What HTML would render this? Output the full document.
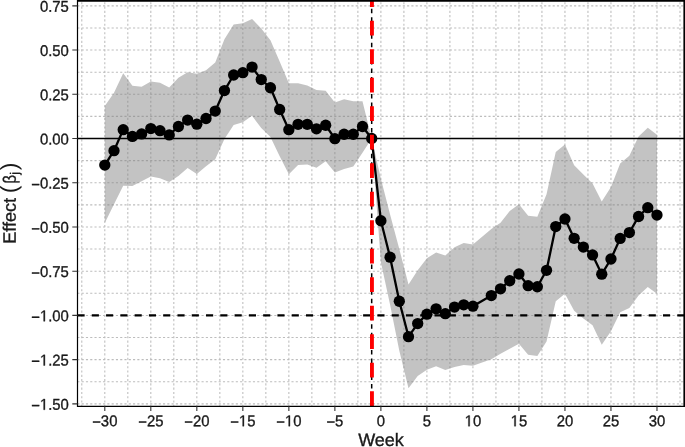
<!DOCTYPE html><html><head><meta charset="utf-8"><style>html,body{margin:0;padding:0;background:#fff;}body{width:685px;height:447px;overflow:hidden;}svg{display:block;will-change:transform;text-rendering:geometricPrecision;}text{font-family:"Liberation Sans", sans-serif;fill:#1a1a1a;stroke:#1a1a1a;stroke-width:0.35px;}</style></head><body><svg width="685" height="447" viewBox="0 0 685 447"><rect x="0" y="0" width="685" height="447" fill="#fff"/><defs><clipPath id="pc"><rect x="77.5" y="0.7" width="606.7" height="405.6"/></clipPath></defs><g clip-path="url(#pc)"><path d="M81.79 0.7V406.3M104.8 0.7V406.3M127.81 0.7V406.3M150.81 0.7V406.3M173.82 0.7V406.3M196.83 0.7V406.3M219.84 0.7V406.3M242.84 0.7V406.3M265.85 0.7V406.3M288.86 0.7V406.3M311.87 0.7V406.3M334.88 0.7V406.3M357.88 0.7V406.3M380.89 0.7V406.3M403.9 0.7V406.3M426.9 0.7V406.3M449.91 0.7V406.3M472.92 0.7V406.3M495.93 0.7V406.3M518.93 0.7V406.3M541.94 0.7V406.3M564.95 0.7V406.3M587.96 0.7V406.3M610.96 0.7V406.3M633.97 0.7V406.3M656.98 0.7V406.3M679.99 0.7V406.3" stroke="#bdbdbd" stroke-width="1.07" stroke-dasharray="2.14 2.142" stroke-dashoffset="2.75" fill="none"/><path d="M77.5 403.87H684.2M77.5 381.75H684.2M77.5 359.64H684.2M77.5 337.53H684.2M77.5 315.41H684.2M77.5 293.3H684.2M77.5 271.19H684.2M77.5 249.08H684.2M77.5 226.97H684.2M77.5 204.85H684.2M77.5 182.74H684.2M77.5 160.63H684.2M77.5 138.52H684.2M77.5 116.4H684.2M77.5 94.29H684.2M77.5 72.18H684.2M77.5 50.06H684.2M77.5 27.95H684.2M77.5 5.84H684.2" stroke="#bdbdbd" stroke-width="1.07" stroke-dasharray="2.14 2.142" stroke-dashoffset="0.15" fill="none"/><polygon points="104.8,105.97 114,92.87 123.21,73.24 132.41,85.8 141.61,86.68 150.81,81.38 160.02,82.79 169.22,87.57 178.42,77.66 187.63,72.35 196.83,73.77 206.03,70.23 215.24,62.45 224.44,39.27 233.64,24.59 242.84,23.18 252.05,18.93 261.25,28.48 270.45,40.34 279.66,61.39 288.86,83.32 298.06,83.15 307.27,85.45 316.47,90.04 325.67,90.75 334.88,102.6 344.08,99.24 353.28,101.19 362.48,101.19 371.69,138.52 380.89,178.67 390.09,214.58 399.3,249.08 408.5,284.46 417.7,270.31 426.9,258.28 436.11,252.44 445.31,255.62 454.51,247.13 463.72,243.06 472.92,244.48 491.33,229.09 500.53,222.72 509.73,211.04 518.93,204.14 528.14,215.82 537.34,216.7 546.54,194.24 555.75,151.96 564.95,144.53 574.15,165.23 583.36,174.6 592.56,183.62 601.76,201.49 610.96,186.99 620.17,163.46 629.37,155.67 638.57,136.57 647.78,127.72 656.98,134.8 656.98,293.83 647.78,287.11 638.57,295.6 629.37,307.99 620.17,312.23 610.96,331.34 601.76,344.78 592.56,325.14 583.36,318.42 574.15,310.82 564.95,293.83 555.75,301.26 546.54,341.42 537.34,355.93 528.14,354.86 518.93,343.72 509.73,348.85 500.53,353.8 491.33,359.29 472.92,365.65 463.72,365.12 454.51,367.07 445.31,370.08 436.11,366.19 426.9,369.72 417.7,375.91 408.5,388.3 399.3,350.79 390.09,304.8 380.89,262.34 371.69,138.52 362.48,152.67 353.28,166.47 344.08,169.12 334.88,172.48 325.67,161.16 316.47,167.7 307.27,164.52 298.06,165.05 288.86,174.25 279.66,156.21 270.45,137.1 261.25,128.08 252.05,115.87 242.84,122.24 233.64,125.07 224.44,139.05 215.24,159.21 206.03,166.29 196.83,174.07 187.63,168.06 178.42,176.02 169.22,182.03 160.02,178.14 150.81,176.55 141.61,181.15 132.41,186.1 123.21,185.75 114,204.14 104.8,222.9" fill="#7f7f7f" fill-opacity="0.47"/><path d="M77.5 138.52H684.2" stroke="#000" stroke-width="1.3"/><path d="M77.5 315.41H684.2" stroke="#000" stroke-width="2.2" stroke-dasharray="7.14 7.14"/><polyline points="104.8,165.04 114,150.71 123.21,129.66 132.41,136.38 141.61,133.91 150.81,128.6 160.02,130.72 169.22,134.97 178.42,126.48 187.63,120.11 196.83,124.18 206.03,118.52 215.24,111.09 224.44,90.57 233.64,75 242.84,72.7 252.05,67.04 261.25,79.6 270.45,87.74 279.66,109.5 288.86,129.66 298.06,124.36 307.27,124.36 316.47,128.78 325.67,125.24 334.88,138.68 344.08,134.26 353.28,134.26 362.48,126.48 371.69,138.52 380.89,220.77 390.09,257.21 399.3,301.26 408.5,336.64 417.7,323.54 426.9,314.17 436.11,308.86 445.31,313.64 454.51,307.09 463.72,304.79 472.92,306.21 491.33,295.59 500.53,288.87 509.73,280.73 518.93,274.01 528.14,285.69 537.34,286.75 546.54,270.3 555.75,226.6 564.95,219 574.15,238.28 583.36,247.12 592.56,254.91 601.76,274.19 610.96,258.98 620.17,238.46 629.37,232.62 638.57,216.52 647.78,207.68 656.98,215.11" fill="none" stroke="#000" stroke-width="2.3" stroke-linejoin="round"/><circle cx="104.8" cy="165.04" r="5.65" fill="#000"/><circle cx="114" cy="150.71" r="5.65" fill="#000"/><circle cx="123.21" cy="129.66" r="5.65" fill="#000"/><circle cx="132.41" cy="136.38" r="5.65" fill="#000"/><circle cx="141.61" cy="133.91" r="5.65" fill="#000"/><circle cx="150.81" cy="128.6" r="5.65" fill="#000"/><circle cx="160.02" cy="130.72" r="5.65" fill="#000"/><circle cx="169.22" cy="134.97" r="5.65" fill="#000"/><circle cx="178.42" cy="126.48" r="5.65" fill="#000"/><circle cx="187.63" cy="120.11" r="5.65" fill="#000"/><circle cx="196.83" cy="124.18" r="5.65" fill="#000"/><circle cx="206.03" cy="118.52" r="5.65" fill="#000"/><circle cx="215.24" cy="111.09" r="5.65" fill="#000"/><circle cx="224.44" cy="90.57" r="5.65" fill="#000"/><circle cx="233.64" cy="75" r="5.65" fill="#000"/><circle cx="242.84" cy="72.7" r="5.65" fill="#000"/><circle cx="252.05" cy="67.04" r="5.65" fill="#000"/><circle cx="261.25" cy="79.6" r="5.65" fill="#000"/><circle cx="270.45" cy="87.74" r="5.65" fill="#000"/><circle cx="279.66" cy="109.5" r="5.65" fill="#000"/><circle cx="288.86" cy="129.66" r="5.65" fill="#000"/><circle cx="298.06" cy="124.36" r="5.65" fill="#000"/><circle cx="307.27" cy="124.36" r="5.65" fill="#000"/><circle cx="316.47" cy="128.78" r="5.65" fill="#000"/><circle cx="325.67" cy="125.24" r="5.65" fill="#000"/><circle cx="334.88" cy="138.68" r="5.65" fill="#000"/><circle cx="344.08" cy="134.26" r="5.65" fill="#000"/><circle cx="353.28" cy="134.26" r="5.65" fill="#000"/><circle cx="362.48" cy="126.48" r="5.65" fill="#000"/><circle cx="371.69" cy="138.52" r="5.65" fill="#000"/><circle cx="380.89" cy="220.77" r="5.65" fill="#000"/><circle cx="390.09" cy="257.21" r="5.65" fill="#000"/><circle cx="399.3" cy="301.26" r="5.65" fill="#000"/><circle cx="408.5" cy="336.64" r="5.65" fill="#000"/><circle cx="417.7" cy="323.54" r="5.65" fill="#000"/><circle cx="426.9" cy="314.17" r="5.65" fill="#000"/><circle cx="436.11" cy="308.86" r="5.65" fill="#000"/><circle cx="445.31" cy="313.64" r="5.65" fill="#000"/><circle cx="454.51" cy="307.09" r="5.65" fill="#000"/><circle cx="463.72" cy="304.79" r="5.65" fill="#000"/><circle cx="472.92" cy="306.21" r="5.65" fill="#000"/><circle cx="491.33" cy="295.59" r="5.65" fill="#000"/><circle cx="500.53" cy="288.87" r="5.65" fill="#000"/><circle cx="509.73" cy="280.73" r="5.65" fill="#000"/><circle cx="518.93" cy="274.01" r="5.65" fill="#000"/><circle cx="528.14" cy="285.69" r="5.65" fill="#000"/><circle cx="537.34" cy="286.75" r="5.65" fill="#000"/><circle cx="546.54" cy="270.3" r="5.65" fill="#000"/><circle cx="555.75" cy="226.6" r="5.65" fill="#000"/><circle cx="564.95" cy="219" r="5.65" fill="#000"/><circle cx="574.15" cy="238.28" r="5.65" fill="#000"/><circle cx="583.36" cy="247.12" r="5.65" fill="#000"/><circle cx="592.56" cy="254.91" r="5.65" fill="#000"/><circle cx="601.76" cy="274.19" r="5.65" fill="#000"/><circle cx="610.96" cy="258.98" r="5.65" fill="#000"/><circle cx="620.17" cy="238.46" r="5.65" fill="#000"/><circle cx="629.37" cy="232.62" r="5.65" fill="#000"/><circle cx="638.57" cy="216.52" r="5.65" fill="#000"/><circle cx="647.78" cy="207.68" r="5.65" fill="#000"/><circle cx="656.98" cy="215.11" r="5.65" fill="#000"/><path d="M371.69 0.7V406.3" stroke="#000" stroke-width="1.5" stroke-dasharray="4.5 4.03" stroke-dashoffset="0.53"/><path d="M371.94 0.7V406.3" stroke="#ff0000" stroke-width="3.9" stroke-dasharray="14.6 13.9" stroke-dashoffset="8.4"/></g><path d="M76.9 0.0H685.0V1.75H76.9Z M76.9 405.7H685.0V406.95H76.9Z M76.9 0H78.1V406.95H76.9Z M683.4 0H685.0V406.95H683.4Z" fill="#000"/><path d="M104.8 406.3V411.1M150.81 406.3V411.1M196.83 406.3V411.1M242.84 406.3V411.1M288.86 406.3V411.1M334.88 406.3V411.1M380.89 406.3V411.1M426.9 406.3V411.1M472.92 406.3V411.1M518.93 406.3V411.1M564.95 406.3V411.1M610.96 406.3V411.1M656.98 406.3V411.1M72.3 403.87H77.5M72.3 359.64H77.5M72.3 315.41H77.5M72.3 271.19H77.5M72.3 226.97H77.5M72.3 182.74H77.5M72.3 138.52H77.5M72.3 94.29H77.5M72.3 50.06H77.5M72.3 5.84H77.5" stroke="#333" stroke-width="1.1"/><g transform="translate(104.8,426.2) scale(0.952,1) rotate(0.04)"><text font-size="15.6" text-anchor="middle"><tspan dy="1.1">−</tspan><tspan dy="-1.1">30</tspan></text></g><g transform="translate(150.81,426.2) scale(0.952,1) rotate(0.04)"><text font-size="15.6" text-anchor="middle"><tspan dy="1.1">−</tspan><tspan dy="-1.1">25</tspan></text></g><g transform="translate(196.83,426.2) scale(0.952,1) rotate(0.04)"><text font-size="15.6" text-anchor="middle"><tspan dy="1.1">−</tspan><tspan dy="-1.1">20</tspan></text></g><g transform="translate(242.84,426.2) scale(0.952,1) rotate(0.04)"><text font-size="15.6" text-anchor="middle"><tspan dy="1.1">−</tspan><tspan dy="-1.1"> 5</tspan></text><path transform="translate(-4.121,0) scale(0.007617,-0.007617)" d="M515 0L515 1237L197 1010L197 1180L530 1409L696 1409L696 0Z" fill="#1a1a1a" stroke="#1a1a1a" stroke-width="45.9"/></g><g transform="translate(288.86,426.2) scale(0.952,1) rotate(0.04)"><text font-size="15.6" text-anchor="middle"><tspan dy="1.1">−</tspan><tspan dy="-1.1"> 0</tspan></text><path transform="translate(-4.121,0) scale(0.007617,-0.007617)" d="M515 0L515 1237L197 1010L197 1180L530 1409L696 1409L696 0Z" fill="#1a1a1a" stroke="#1a1a1a" stroke-width="45.9"/></g><g transform="translate(334.88,426.2) scale(0.952,1) rotate(0.04)"><text font-size="15.6" text-anchor="middle"><tspan dy="1.1">−</tspan><tspan dy="-1.1">5</tspan></text></g><g transform="translate(380.89,426.2) scale(0.952,1) rotate(0.04)"><text font-size="15.6" text-anchor="middle">0</text></g><g transform="translate(426.9,426.2) scale(0.952,1) rotate(0.04)"><text font-size="15.6" text-anchor="middle">5</text></g><g transform="translate(472.92,426.2) scale(0.952,1) rotate(0.04)"><text font-size="15.6" text-anchor="middle"> 0</text><path transform="translate(-8.676,0) scale(0.007617,-0.007617)" d="M515 0L515 1237L197 1010L197 1180L530 1409L696 1409L696 0Z" fill="#1a1a1a" stroke="#1a1a1a" stroke-width="45.9"/></g><g transform="translate(518.93,426.2) scale(0.952,1) rotate(0.04)"><text font-size="15.6" text-anchor="middle"> 5</text><path transform="translate(-8.676,0) scale(0.007617,-0.007617)" d="M515 0L515 1237L197 1010L197 1180L530 1409L696 1409L696 0Z" fill="#1a1a1a" stroke="#1a1a1a" stroke-width="45.9"/></g><g transform="translate(564.95,426.2) scale(0.952,1) rotate(0.04)"><text font-size="15.6" text-anchor="middle">20</text></g><g transform="translate(610.96,426.2) scale(0.952,1) rotate(0.04)"><text font-size="15.6" text-anchor="middle">25</text></g><g transform="translate(656.98,426.2) scale(0.952,1) rotate(0.04)"><text font-size="15.6" text-anchor="middle">30</text></g><g transform="translate(68.8,409.76) scale(0.952,1) rotate(0.04)"><text font-size="15.6" text-anchor="end"><tspan dy="1.1">−</tspan><tspan dy="-1.1"> .50</tspan></text><path transform="translate(-30.362,0) scale(0.007617,-0.007617)" d="M515 0L515 1237L197 1010L197 1180L530 1409L696 1409L696 0Z" fill="#1a1a1a" stroke="#1a1a1a" stroke-width="45.9"/></g><g transform="translate(68.8,365.54) scale(0.952,1) rotate(0.04)"><text font-size="15.6" text-anchor="end"><tspan dy="1.1">−</tspan><tspan dy="-1.1"> .25</tspan></text><path transform="translate(-30.362,0) scale(0.007617,-0.007617)" d="M515 0L515 1237L197 1010L197 1180L530 1409L696 1409L696 0Z" fill="#1a1a1a" stroke="#1a1a1a" stroke-width="45.9"/></g><g transform="translate(68.8,321.31) scale(0.952,1) rotate(0.04)"><text font-size="15.6" text-anchor="end"><tspan dy="1.1">−</tspan><tspan dy="-1.1"> .00</tspan></text><path transform="translate(-30.362,0) scale(0.007617,-0.007617)" d="M515 0L515 1237L197 1010L197 1180L530 1409L696 1409L696 0Z" fill="#1a1a1a" stroke="#1a1a1a" stroke-width="45.9"/></g><g transform="translate(68.8,277.09) scale(0.952,1) rotate(0.04)"><text font-size="15.6" text-anchor="end"><tspan dy="1.1">−</tspan><tspan dy="-1.1">0.75</tspan></text></g><g transform="translate(68.8,232.87) scale(0.952,1) rotate(0.04)"><text font-size="15.6" text-anchor="end"><tspan dy="1.1">−</tspan><tspan dy="-1.1">0.50</tspan></text></g><g transform="translate(68.8,188.64) scale(0.952,1) rotate(0.04)"><text font-size="15.6" text-anchor="end"><tspan dy="1.1">−</tspan><tspan dy="-1.1">0.25</tspan></text></g><g transform="translate(68.8,144.42) scale(0.952,1) rotate(0.04)"><text font-size="15.6" text-anchor="end">0.00</text></g><g transform="translate(68.8,100.19) scale(0.952,1) rotate(0.04)"><text font-size="15.6" text-anchor="end">0.25</text></g><g transform="translate(68.8,55.96) scale(0.952,1) rotate(0.04)"><text font-size="15.6" text-anchor="end">0.50</text></g><g transform="translate(68.8,11.74) scale(0.952,1) rotate(0.04)"><text font-size="15.6" text-anchor="end">0.75</text></g><text transform="translate(381,446) rotate(0.04)" font-size="18" text-anchor="middle" fill="#000">Week</text><g transform="translate(15.8,242.3) rotate(-89.96)" fill="#000"><text x="-1.48" y="0" font-size="18" fill="#000">Effect</text><text x="49.02373046875" y="0.9" font-size="23" style="stroke-width:0">(</text><text x="58.7766015625" y="0" font-size="18" fill="#000" transform="translate(58.7766015625,0) scale(0.82,1) translate(-58.7766015625,0)">β</text><text x="67.6" y="3.2" font-size="12.5" fill="#000">j</text><text x="71.965234375" y="0.9" font-size="23" style="stroke-width:0">)</text></g></svg></body></html>
